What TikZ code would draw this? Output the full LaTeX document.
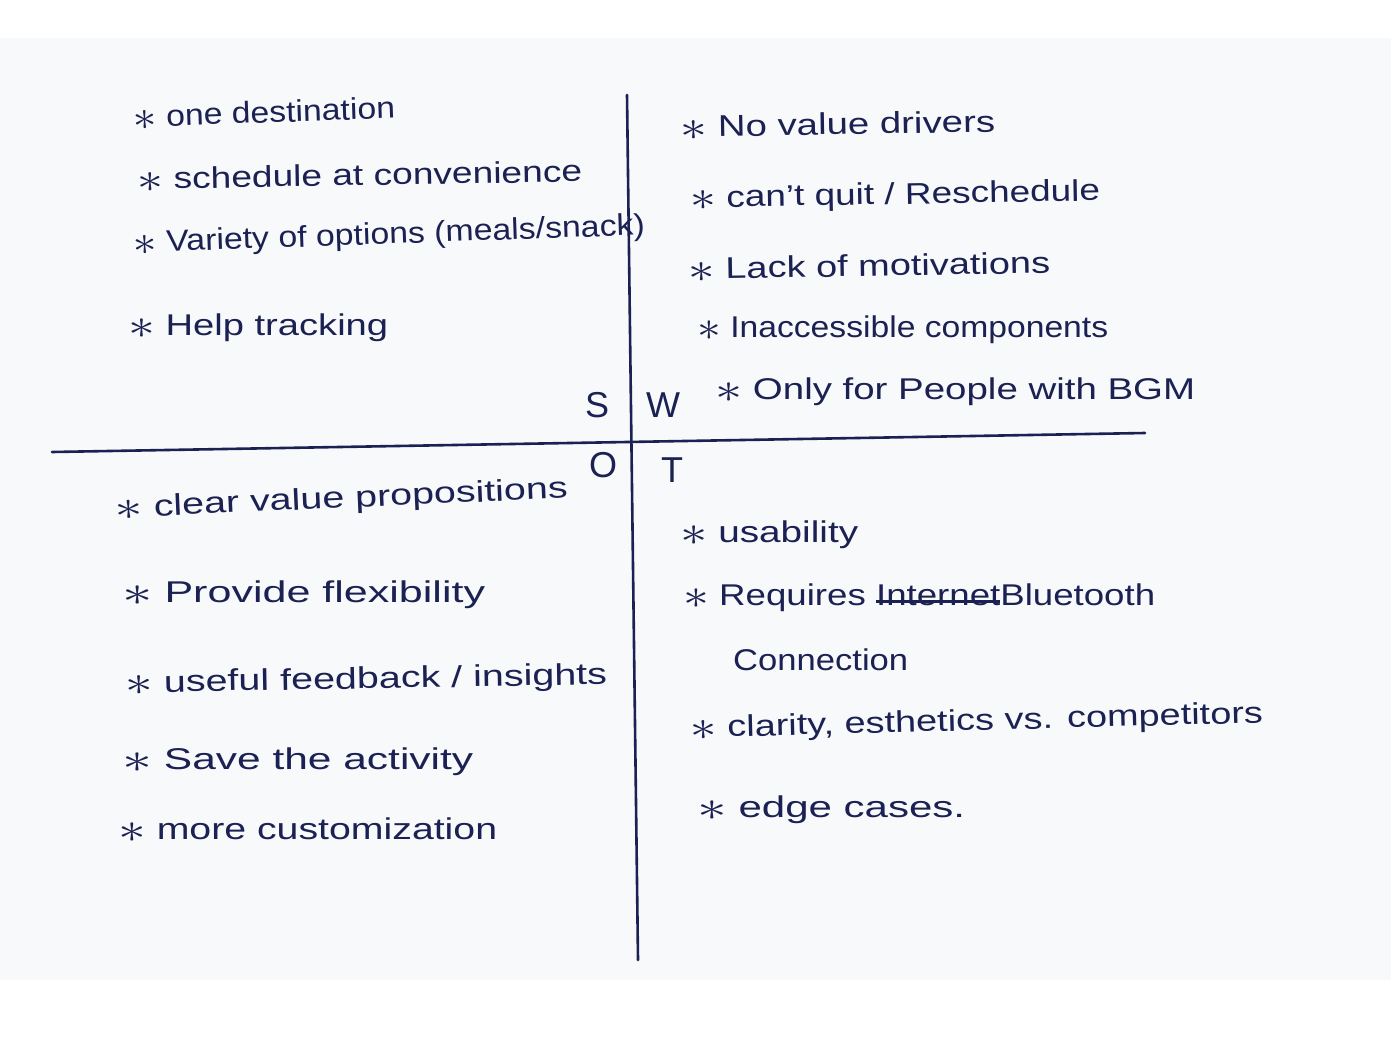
\documentclass[tikz,border=0pt]{standalone}
\usepackage{fontspec}
\usepackage{graphicx}
\setmainfont{Liberation Sans}
\definecolor{ink}{HTML}{1B2152}
\definecolor{paper}{HTML}{F8F9FB}
\newcommand\fitw[2]{\setbox0=\hbox{#2}\pgfmathsetmacro\fsc{#1/\wd0}\scalebox{\fsc}[1]{\box0}}
\newcommand\bul{\raisebox{-3pt}{\scalebox{1.7}{$\ast$}}\ }
\newcommand\strk[1]{\setbox2=\hbox{#1}\rlap{\rule[0.2ex]{\wd2}{2.4pt}}\box2}
\tikzset{
  item/.style={anchor=west, inner sep=0pt, text=ink, font=\fontsize{30}{34}\selectfont},
  letter/.style={anchor=center, inner sep=0pt, text=ink, font=\fontsize{36}{40}\selectfont},
  pen/.style={draw=ink, line width=2.6pt, line cap=round}
}
\begin{document}
\begin{tikzpicture}[x=1pt,y=-1pt]
\useasboundingbox (0,0) rectangle (1391,1038);
\fill[white] (0,0) rectangle (1391,1038);
\fill[paper] (0,38) rectangle (1391,980);
% axes
\coordinate (vtop) at (627,95);
\coordinate (vbot) at (638,960);
\coordinate (hl) at (52,452);
\coordinate (hr) at (1145,433);
\draw[pen] (vtop) -- (vbot);
\draw[pen] (hl) -- (hr);
% quadrant letters
\node[letter] (S) at (597,405) {S};
\node[letter] (W) at (663,405) {W};
\node[letter] (O) at (603,465) {O};
\node[letter] (T) at (672,470) {T};
% Strengths
\node[item, rotate=2] (s1) at (133,118) {\fitw{262}{\bul one destination}};
\node[item, rotate=1] (s2) at (137,180) {\fitw{445}{\bul schedule at convenience}};
\node[item, rotate=2] (s3) at (133,245) {\fitw{512}{\bul Variety of options (meals/snack)}};
\node[item] (s4) at (128,328) {\fitw{260}{\bul Help tracking}};
% Weaknesses
\node[item, rotate=1] (w1) at (680,128) {\fitw{315}{\bul No value drivers}};
\node[item, rotate=1] (w2) at (690,200) {\fitw{410}{\bul can't quit / Reschedule}};
\node[item, rotate=1] (w3) at (688,270) {\fitw{362}{\bul Lack of motivations}};
\node[item] (w4) at (697,330) {\fitw{411}{\bul Inaccessible components}};
\node[item] (w5) at (715,392) {\fitw{480}{\bul Only for People with BGM}};
% Opportunities
\node[item, rotate=2.5] (o1) at (115,510) {\fitw{453}{\bul clear value propositions}};
\node[item] (o2) at (122,595) {\fitw{363}{\bul Provide flexibility}};
\node[item, rotate=1] (o3) at (125,685) {\fitw{482}{\bul useful feedback / insights}};
\node[item] (o4) at (122,762) {\fitw{351}{\bul Save the activity}};
\node[item] (o5) at (118,830) {\fitw{379}{\bul more customization}};
% Threats
\node[item] (t1) at (680,535) {\fitw{178}{\bul usability}};
\node[item] (t2) at (683,598) {\fitw{472}{\bul Requires \strk{Internet}Bluetooth}};
\node[item] (t3) at (733,660) {\fitw{175}{Connection}};
\node[item, rotate=1.5] (t4) at (690,730) {\fitw{573}{\bul clarity, esthetics vs. competitors}};
\node[item] (t5) at (697,810) {\fitw{268}{\bul edge cases.}};
\end{tikzpicture}
\end{document}
